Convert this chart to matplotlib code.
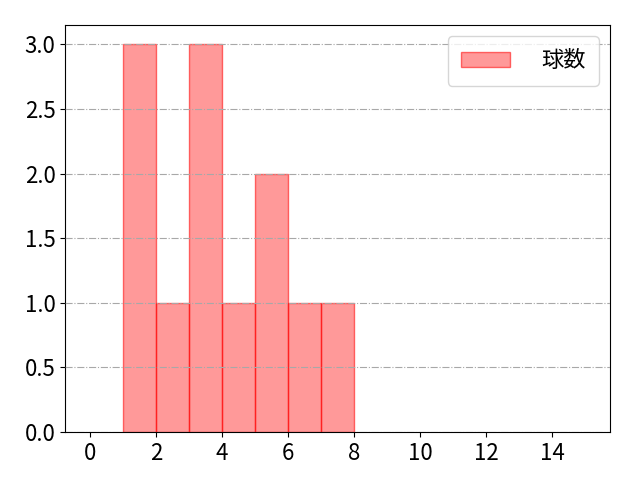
import matplotlib
matplotlib.use("Agg")
import matplotlib.pyplot as plt

plt.rcParams["font.family"] = ["Noto Sans CJK JP", "DejaVu Sans"]
plt.rcParams["font.size"] = 16

# Histogram bins (left edges) and counts
binEdges = [1, 2, 3, 4, 5, 6, 7]
counts   = [3, 1, 3, 1, 2, 1, 1]
label    = "球数"

figure, axes = plt.subplots(figsize=(6.4, 4.8), dpi=100)

axes.bar(binEdges, counts, width=1, align="edge", facecolor=(1, 0, 0, 0.4),
         edgecolor=(1, 0, 0, 0.55), linewidth=1, label=label)

axes.set_xlim(-0.75, 15.75)
axes.set_xticks(range(0, 16, 2))
axes.set_yticks([0, 0.5, 1.0, 1.5, 2.0, 2.5, 3.0])
axes.grid(axis="y", linestyle="-.", color="#a8a8a8")
axes.set_axisbelow(False)
axes.legend(loc="upper right", borderpad=0.6, handlelength=2.2, handletextpad=1.4)

figure.subplots_adjust(left=0.102, right=0.953, top=0.948, bottom=0.1)
figure.savefig("out.png")
